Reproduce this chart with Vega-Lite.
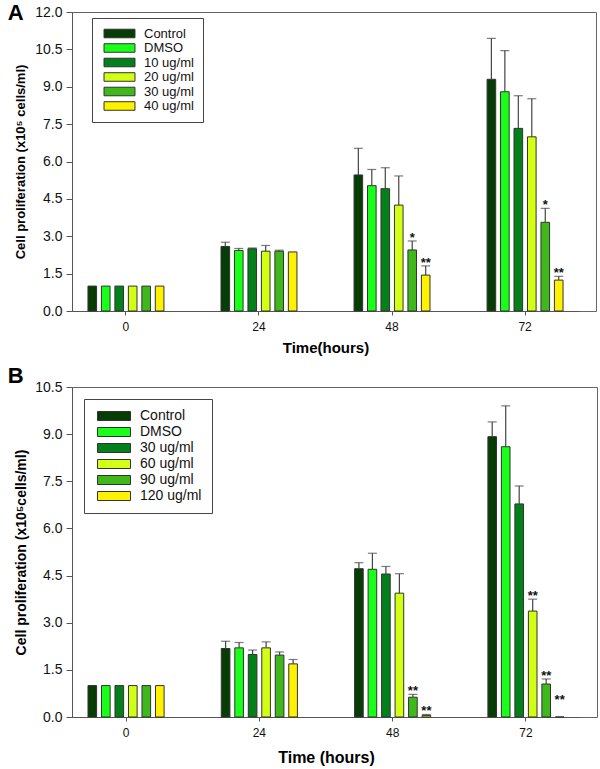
{
  "$schema": "https://vega.github.io/schema/vega-lite/v6.json",
  "padding": {"left": 7, "top": 1, "right": 2, "bottom": 1},
  "spacing": 8,
  "background": "white",
  "config": {
    "font": "Liberation Sans",
    "view": {"stroke": "#666", "strokeWidth": 1},
    "axis": {"domainColor": "#555", "tickColor": "#555", "labelColor": "#111", "titleColor": "#000", "grid": false, "labelFont": "Liberation Sans", "titleFont": "Liberation Sans", "labelFontSize": 12},
    "axisY": {"labelOverlap": false, "labelFontSize": 14, "tickCount": 20},
    "legend": {"labelFont": "Liberation Sans"},
    "title": {"font": "Liberation Sans"}
  },
  "resolve": {"scale": {"color": "independent", "y": "independent", "x": "independent", "xOffset": "independent"}},
  "vconcat": [
    {
      "width": 524,
      "height": 299,
      "title": {"text": "A", "orient": "top", "anchor": "start", "frame": "bounds", "fontSize": 22, "fontWeight": "bold", "offset": -20, "dx": -7},
      "data": {"values": [
        {"time": "0", "t": "Control", "v": 1.0, "hi": null, "sig": null},
        {"time": "0", "t": "DMSO", "v": 1.0, "hi": null, "sig": null},
        {"time": "0", "t": "10 ug/ml", "v": 1.0, "hi": null, "sig": null},
        {"time": "0", "t": "20 ug/ml", "v": 1.0, "hi": null, "sig": null},
        {"time": "0", "t": "30 ug/ml", "v": 1.0, "hi": null, "sig": null},
        {"time": "0", "t": "40 ug/ml", "v": 1.0, "hi": null, "sig": null},
        {"time": "24", "t": "Control", "v": 2.59, "hi": 2.76, "sig": null},
        {"time": "24", "t": "DMSO", "v": 2.43, "hi": 2.51, "sig": null},
        {"time": "24", "t": "10 ug/ml", "v": 2.5, "hi": 2.53, "sig": null},
        {"time": "24", "t": "20 ug/ml", "v": 2.4, "hi": 2.63, "sig": null},
        {"time": "24", "t": "30 ug/ml", "v": 2.4, "hi": 2.44, "sig": null},
        {"time": "24", "t": "40 ug/ml", "v": 2.37, "hi": null, "sig": null},
        {"time": "48", "t": "Control", "v": 5.46, "hi": 6.53, "sig": null},
        {"time": "48", "t": "DMSO", "v": 5.03, "hi": 5.68, "sig": null},
        {"time": "48", "t": "10 ug/ml", "v": 4.91, "hi": 5.75, "sig": null},
        {"time": "48", "t": "20 ug/ml", "v": 4.25, "hi": 5.42, "sig": null},
        {"time": "48", "t": "30 ug/ml", "v": 2.45, "hi": 2.81, "sig": "*"},
        {"time": "48", "t": "40 ug/ml", "v": 1.44, "hi": 1.81, "sig": "**"},
        {"time": "72", "t": "Control", "v": 9.3, "hi": 10.94, "sig": null},
        {"time": "72", "t": "DMSO", "v": 8.8, "hi": 10.45, "sig": null},
        {"time": "72", "t": "10 ug/ml", "v": 7.33, "hi": 8.64, "sig": null},
        {"time": "72", "t": "20 ug/ml", "v": 6.99, "hi": 8.52, "sig": null},
        {"time": "72", "t": "30 ug/ml", "v": 3.56, "hi": 4.12, "sig": "*"},
        {"time": "72", "t": "40 ug/ml", "v": 1.24, "hi": 1.39, "sig": "**"}
      ]},
      "encoding": {
        "x": {"field": "time", "type": "nominal", "sort": ["0", "24", "48", "72"],
          "scale": {"range": [0, 507], "paddingInner": 0.429, "paddingOuter": 0.12},
          "axis": {"title": "Time(hours)", "labelAngle": 0, "tickSize": 4, "labelPadding": 6, "titlePadding": 8, "titleFontSize": 15, "titleFontWeight": "bold", "labelFontSize": 12}},
        "xOffset": {"field": "t", "type": "nominal", "sort": ["Control", "DMSO", "10 ug/ml", "20 ug/ml", "30 ug/ml", "40 ug/ml"], "scale": {"paddingInner": 0.36, "paddingOuter": 0}}
      },
      "layer": [
        {
          "mark": {"type": "bar", "stroke": "#333", "strokeWidth": 1},
          "encoding": {
            "y": {"field": "v", "type": "quantitative", "scale": {"domain": [0, 12], "nice": false},
              "axis": {"title": "Cell proliferation (x10⁵ cells/ml)", "values": [0, 1.5, 3, 4.5, 6, 7.5, 9, 10.5, 12], "tickCount": 20, "format": ".1f", "labelOverlap": false, "tickSize": 6, "labelPadding": 4, "titleFontSize": 13, "titleFontWeight": "bold", "titlePadding": 7}},
            "color": {"field": "t", "type": "nominal",
              "scale": {"domain": ["Control", "DMSO", "10 ug/ml", "20 ug/ml", "30 ug/ml", "40 ug/ml"], "range": ["#053d05", "#1aff1a", "#04801a", "#d2ff14", "#3fb81b", "#fff200"]},
              "legend": {"title": null, "orient": "none", "legendX": 20, "legendY": 6, "padding": 9, "strokeColor": "#444", "fillColor": "white", "symbolType": "M-3.44,-0.95H3.44V0.95H-3.44Z", "symbolSize": 81, "symbolOffset": 12, "symbolStrokeColor": "#333", "symbolStrokeWidth": 1, "symbolOpacity": 1, "labelFontSize": 13, "labelOffset": 18, "rowPadding": 0.5, "labelColor": "#111"}}
          }
        },
        {
          "transform": [{"filter": "datum.hi != null && datum.hi > datum.v"}],
          "mark": {"type": "rule", "color": "#444", "strokeWidth": 1.2},
          "encoding": {"y": {"field": "v", "type": "quantitative", "title": "Cell proliferation (x10⁵ cells/ml)"}, "y2": {"field": "hi"}}
        },
        {
          "transform": [{"filter": "datum.hi != null && datum.hi > datum.v"}],
          "mark": {"type": "tick", "color": "#444", "thickness": 1.2, "size": 9},
          "encoding": {"y": {"field": "hi", "type": "quantitative", "title": "Cell proliferation (x10⁵ cells/ml)"}}
        },
        {
          "transform": [{"filter": "datum.sig != null"}],
          "mark": {"type": "text", "fontSize": 13, "fontWeight": "bold", "dy": 1, "baseline": "alphabetic", "color": "#111"},
          "encoding": {"y": {"field": "hi", "type": "quantitative", "title": "Cell proliferation (x10⁵ cells/ml)"}, "text": {"field": "sig"}}
        }
      ]
    },
    {
      "width": 525,
      "height": 330,
      "title": {"text": "B", "orient": "top", "anchor": "start", "frame": "bounds", "fontSize": 22, "fontWeight": "bold", "offset": -8, "dx": -7},
      "data": {"values": [
        {"time": "0", "t": "Control", "v": 1.0, "hi": null, "sig": null},
        {"time": "0", "t": "DMSO", "v": 1.0, "hi": null, "sig": null},
        {"time": "0", "t": "30 ug/ml", "v": 1.0, "hi": null, "sig": null},
        {"time": "0", "t": "60 ug/ml", "v": 1.0, "hi": null, "sig": null},
        {"time": "0", "t": "90 ug/ml", "v": 1.0, "hi": null, "sig": null},
        {"time": "0", "t": "120 ug/ml", "v": 1.0, "hi": null, "sig": null},
        {"time": "24", "t": "Control", "v": 2.18, "hi": 2.41, "sig": null},
        {"time": "24", "t": "DMSO", "v": 2.2, "hi": 2.37, "sig": null},
        {"time": "24", "t": "30 ug/ml", "v": 1.99, "hi": 2.13, "sig": null},
        {"time": "24", "t": "60 ug/ml", "v": 2.2, "hi": 2.39, "sig": null},
        {"time": "24", "t": "90 ug/ml", "v": 1.97, "hi": 2.07, "sig": null},
        {"time": "24", "t": "120 ug/ml", "v": 1.69, "hi": 1.83, "sig": null},
        {"time": "48", "t": "Control", "v": 4.72, "hi": 4.91, "sig": null},
        {"time": "48", "t": "DMSO", "v": 4.7, "hi": 5.21, "sig": null},
        {"time": "48", "t": "30 ug/ml", "v": 4.55, "hi": 4.79, "sig": null},
        {"time": "48", "t": "60 ug/ml", "v": 3.94, "hi": 4.56, "sig": null},
        {"time": "48", "t": "90 ug/ml", "v": 0.63, "hi": 0.72, "sig": "**"},
        {"time": "48", "t": "120 ug/ml", "v": 0.05, "hi": 0.08, "sig": "**"},
        {"time": "72", "t": "Control", "v": 8.92, "hi": 9.39, "sig": null},
        {"time": "72", "t": "DMSO", "v": 8.6, "hi": 9.9, "sig": null},
        {"time": "72", "t": "30 ug/ml", "v": 6.78, "hi": 7.35, "sig": null},
        {"time": "72", "t": "60 ug/ml", "v": 3.37, "hi": 3.75, "sig": "**"},
        {"time": "72", "t": "90 ug/ml", "v": 1.05, "hi": 1.21, "sig": "**"},
        {"time": "72", "t": "120 ug/ml", "v": 0, "hi": 0.45, "sig": "**"}
      ]},
      "encoding": {
        "x": {"field": "time", "type": "nominal", "sort": ["0", "24", "48", "72"],
          "scale": {"range": [0, 508], "paddingInner": 0.429, "paddingOuter": 0.12},
          "axis": {"title": "Time (hours)", "labelAngle": 0, "tickSize": 4, "labelPadding": 6, "titlePadding": 11, "titleFontSize": 16, "titleFontWeight": "bold", "labelFontSize": 12}},
        "xOffset": {"field": "t", "type": "nominal", "sort": ["Control", "DMSO", "30 ug/ml", "60 ug/ml", "90 ug/ml", "120 ug/ml"], "scale": {"paddingInner": 0.36, "paddingOuter": 0}}
      },
      "layer": [
        {
          "mark": {"type": "bar", "stroke": "#333", "strokeWidth": 1},
          "encoding": {
            "y": {"field": "v", "type": "quantitative", "scale": {"domain": [0, 10.5], "nice": false},
              "axis": {"title": "Cell proliferation (x10⁵cells/ml)", "values": [0, 1.5, 3, 4.5, 6, 7.5, 9, 10.5], "tickCount": 20, "format": ".1f", "labelOverlap": false, "tickSize": 6, "labelPadding": 4, "titleFontSize": 14, "titleFontWeight": "bold", "titlePadding": 6}},
            "color": {"field": "t", "type": "nominal",
              "scale": {"domain": ["Control", "DMSO", "30 ug/ml", "60 ug/ml", "90 ug/ml", "120 ug/ml"], "range": ["#053d05", "#1aff1a", "#04801a", "#d2ff14", "#3fb81b", "#fff200"]},
              "legend": {"title": null, "orient": "none", "legendX": 12, "legendY": 12, "padding": 10, "strokeColor": "#444", "fillColor": "white", "symbolType": "M-3.67,-1H3.67V1H-3.67Z", "symbolSize": 81, "symbolOffset": 13, "symbolStrokeColor": "#333", "symbolStrokeWidth": 1, "symbolOpacity": 1, "labelFontSize": 14, "labelOffset": 19, "rowPadding": 2, "labelColor": "#111"}}
          }
        },
        {
          "transform": [{"filter": "datum.hi != null && datum.hi > datum.v && datum.v > 0"}],
          "mark": {"type": "rule", "color": "#444", "strokeWidth": 1.2},
          "encoding": {"y": {"field": "v", "type": "quantitative", "title": "Cell proliferation (x10⁵cells/ml)"}, "y2": {"field": "hi"}}
        },
        {
          "transform": [{"filter": "datum.hi != null && datum.hi > datum.v && datum.v > 0"}],
          "mark": {"type": "tick", "color": "#444", "thickness": 1.2, "size": 9},
          "encoding": {"y": {"field": "hi", "type": "quantitative", "title": "Cell proliferation (x10⁵cells/ml)"}}
        },
        {
          "transform": [{"filter": "datum.sig != null"}],
          "mark": {"type": "text", "fontSize": 13, "fontWeight": "bold", "dy": 1, "baseline": "alphabetic", "color": "#111"},
          "encoding": {"y": {"field": "hi", "type": "quantitative", "title": "Cell proliferation (x10⁵cells/ml)"}, "text": {"field": "sig"}}
        }
      ]
    }
  ]
}
